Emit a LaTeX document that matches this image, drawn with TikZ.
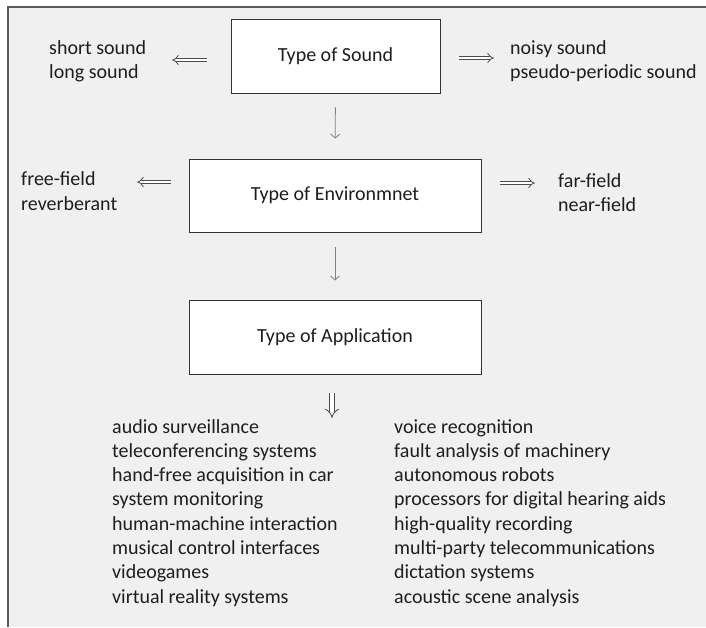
\documentclass[tikz,border=0pt]{standalone}
\usepackage{fontspec}
\setmainfont{Carlito}
\usetikzlibrary{arrows.meta}
\definecolor{panel}{HTML}{F0F0F0}
\definecolor{framegray}{HTML}{5A5A5A}
\definecolor{ink}{HTML}{1E1E1E}
\begin{document}
\begin{tikzpicture}[x=1pt,y=-1pt,
  every node/.style={font=\fontsize{20}{24.4}\selectfont, text=ink},
  stage/.style={draw=black!80, line width=0.9pt, fill=white, inner sep=0pt},
  lbl/.style={anchor=base west, inner sep=0pt},
  flow/.style={draw=black!50, line width=0.8pt, -{Straight Barb[length=4pt,width=9pt]}},
  hollow/.style={draw=black!70, line width=0.75pt, double=white, double distance=2.8pt, -{Implies}},
  hollowdown/.style={draw=black!70, line width=0.8pt, double=white, double distance=4.2pt, -{Implies}},
]
\useasboundingbox (0,0) rectangle (706,627);

% panel and its frame
\fill[white] (0,0) rectangle (706,627);
\fill[panel] (8,7) rectangle (706,627);
\draw[framegray, line width=1.5pt] (8,627) -- (8,7) -- (706,7);

% the three stages
\node[stage, minimum width=209pt, minimum height=74pt] (sound) at (335.5,56) {Type of Sound};
\node[stage, minimum width=292pt, minimum height=73pt] (env) at (335,195.5) {Type of Environmnet};
\node[stage, minimum width=292pt, minimum height=74pt] (app) at (335,337) {Type of Application};

% side labels
\node[lbl] (sndL1) at (49,54) {short sound};
\node[lbl] (sndL2) at (49,78) {long sound};
\node[lbl] (sndR1) at (510,54) {noisy sound};
\node[lbl] (sndR2) at (510,78) {pseudo-periodic sound};
\node[lbl] (envL1) at (21,185) {free-field};
\node[lbl] (envL2) at (21,210) {reverberant};
\node[lbl] (envR1) at (558,187) {far-field};
\node[lbl] (envR2) at (558,211) {near-field};

% application list, two columns
\foreach \t [count=\i] in {audio surveillance, teleconferencing systems,
    hand-free acquisition in car, system monitoring, human-machine interaction,
    musical control interfaces, videogames, virtual reality systems}
  \node[lbl] (appA\i) at (112,{433+24.3*(\i-1)}) {\t};
\foreach \t [count=\i] in {voice recognition, fault analysis of machinery,
    autonomous robots, processors for digital hearing aids, high-quality recording,
    multi-party telecommunications, dictation systems, acoustic scene analysis}
  \node[lbl] (appB\i) at (394,{433+24.3*(\i-1)}) {\t};

% flow between stages
\draw[flow, shorten <=14pt, shorten >=20pt] (sound.south) -- (env.north);
\draw[flow, shorten <=15pt, shorten >=19pt] (env.south) -- (app.north);

% hollow arrows towards the option lists
\coordinate (sndLtip) at (172,60);
\coordinate (sndRtip) at (494,58);
\coordinate (envLtip) at (137,182);
\coordinate (envRtip) at (535,183);
\coordinate (apptip) at (332,418);
\draw[hollow, shorten <=24pt] (sound.west |- sndLtip) -- (sndLtip);
\draw[hollow, shorten <=19pt] (sound.east |- sndRtip) -- (sndRtip);
\draw[hollow, shorten <=18pt] (env.west |- envLtip) -- (envLtip);
\draw[hollow, shorten <=19pt] (env.east |- envRtip) -- (envRtip);
\draw[hollowdown, shorten <=19pt] (app.south -| apptip) -- (apptip);
\end{tikzpicture}
\end{document}
